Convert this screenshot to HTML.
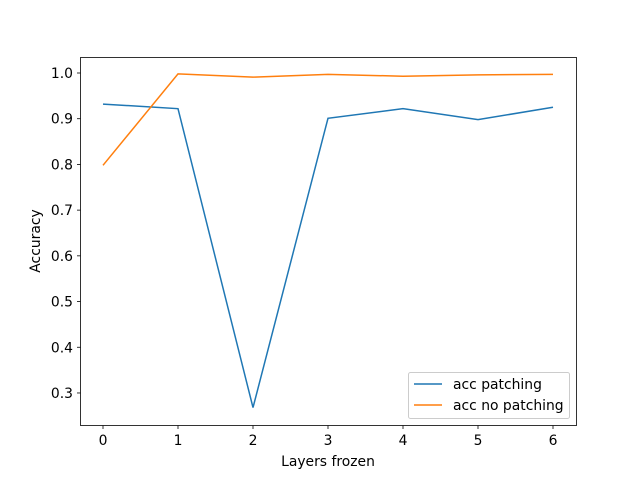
<!DOCTYPE html>
<html><head><meta charset="utf-8"><style>
body{margin:0;background:#fff;}
svg text{font-family:"DejaVu Sans","Liberation Sans",sans-serif;font-size:13.9px;fill:#000;}
</style></head><body>
<svg id="chart" width="640" height="478">
<rect x="0" y="0" width="640" height="478" fill="#fff"/>
<g id="grid"></g>
<g id="marks"></g>
<rect x="80.5" y="57.5" width="496" height="368" fill="none" stroke="#000" stroke-width="0.8"/>
<text x="328" y="466" text-anchor="middle">Layers frozen</text>
<text transform="translate(40,241) rotate(-90)" text-anchor="middle">Accuracy</text>
<g>
<rect x="408.5" y="372.5" width="161" height="46" rx="2" fill="#fff" fill-opacity="0.8" stroke="#ccc"/>
<line x1="414" y1="384" x2="442" y2="384" stroke="#1f77b4" stroke-width="1.5"/>
<text x="453" y="389">acc patching</text>
<line x1="414" y1="405" x2="442" y2="405" stroke="#ff7f0e" stroke-width="1.5"/>
<text x="453" y="410">acc no patching</text>
</g>
</svg>
<script>
const categories=[0,1,2,3,4,5,6];
const accPatching=[0.932,0.922,0.268,0.901,0.922,0.898,0.925];
const accNoPatching=[0.798,0.998,0.991,0.997,0.993,0.996,0.997];
const yTicks=[0.3,0.4,0.5,0.6,0.7,0.8,0.9,1.0];
const NS="http://www.w3.org/2000/svg";
function xs(v){return 103+v*75;}
function ys(v){return 73+(1.0-v)*457.1;}
const g=document.getElementById('grid'),m=document.getElementById('marks');
function el(t,a,p){const e=document.createElementNS(NS,t);for(const k in a)e.setAttribute(k,a[k]);p.appendChild(e);return e;}
categories.forEach(c=>{
 const x=xs(c);
 const l=el('line',{x1:x,y1:425.5,x2:x,y2:429,stroke:'#000','stroke-width':0.8},g);
 
 
 const t=el('text',{x:x,y:445,'text-anchor':'middle'},g);t.textContent=c;
 
 
});
yTicks.forEach(v=>{
 const y=ys(v);
 const l=el('line',{x1:77,y1:y,x2:80.5,y2:y,stroke:'#000','stroke-width':0.8},g);
 
 
 const t=el('text',{x:73,y:y+5,'text-anchor':'end'},g);t.textContent=v.toFixed(1);
 
 
});
function line(data,color,name){
 const p=el('polyline',{points:data.map((v,i)=>xs(categories[i])+','+ys(v)).join(' '),fill:'none',stroke:color,'stroke-width':1.5},m);
 
 
}
line(accPatching,'#1f77b4','series-acc-patching');
line(accNoPatching,'#ff7f0e','series-acc-no-patching');
</script>
</body></html>
